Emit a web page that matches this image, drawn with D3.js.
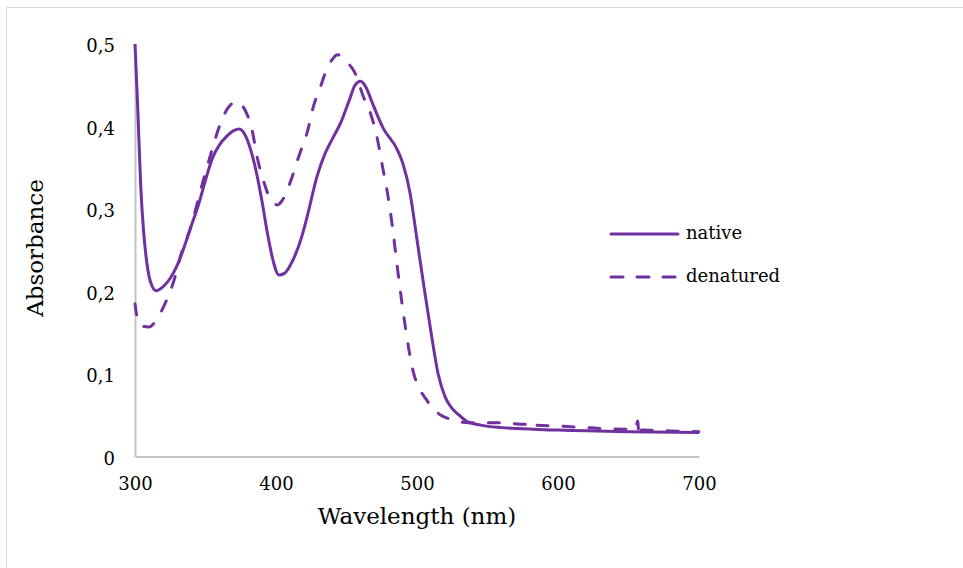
<!DOCTYPE html>
<html>
<head>
<meta charset="utf-8">
<script src="https://cdn.jsdelivr.net/npm/d3@7"></script>
<style>
  html, body { margin: 0; padding: 0; background: #fff; }
  svg { display: block; }
  text { font-family: "DejaVu Serif", Georgia, serif; fill: #000; }
</style>
</head>
<body>
<svg id="chart" width="963" height="568"></svg>
<script>
// Absorption spectra: wavelength (nm) and absorbance for each sample
const nativeWavelength = [300, 302, 304, 306, 308, 310, 312, 315, 320, 325, 330, 340, 345, 350, 355, 360, 365, 370, 374, 378, 382, 386, 390, 394, 398, 402, 406, 412, 418, 422, 429, 435, 440, 446, 452, 456, 460, 464, 468, 476, 486, 490, 495, 500, 505, 510, 515, 520, 525, 530, 536, 545, 560, 600, 650, 700];
const nativeAbsorbance = [0.500, 0.420, 0.330, 0.275, 0.240, 0.218, 0.207, 0.201, 0.206, 0.216, 0.232, 0.280, 0.305, 0.335, 0.362, 0.378, 0.388, 0.395, 0.397, 0.390, 0.372, 0.345, 0.310, 0.270, 0.237, 0.220, 0.222, 0.238, 0.265, 0.290, 0.339, 0.368, 0.385, 0.405, 0.432, 0.450, 0.455, 0.447, 0.430, 0.398, 0.372, 0.355, 0.320, 0.263, 0.205, 0.150, 0.100, 0.072, 0.058, 0.050, 0.042, 0.038, 0.035, 0.032, 0.030, 0.029];

const denaturedWavelength = [300, 302, 305, 310, 316, 322, 327, 333, 339, 348, 354, 359, 365, 372, 378, 383, 387, 391, 396, 401, 405, 410, 417, 422, 426.5, 431.5, 435, 440.7, 443.5, 451, 456, 462, 467, 472, 476, 479, 482.6, 486, 492, 497, 502.5, 507, 511, 517, 524, 536, 559, 577, 579, 581, 583, 600, 630, 655, 656.5, 657.5, 659, 680, 700];
const denaturedAbsorbance = [0.185, 0.165, 0.158, 0.157, 0.168, 0.188, 0.210, 0.247, 0.275, 0.332, 0.368, 0.396, 0.420, 0.430, 0.420, 0.396, 0.360, 0.335, 0.312, 0.305, 0.312, 0.332, 0.368, 0.392, 0.424, 0.448, 0.465, 0.483, 0.487, 0.477, 0.465, 0.436, 0.416, 0.384, 0.347, 0.320, 0.278, 0.230, 0.154, 0.105, 0.080, 0.068, 0.059, 0.050, 0.045, 0.041, 0.041, 0.039, 0.043, 0.039, 0.038, 0.037, 0.034, 0.033, 0.043, 0.024, 0.032, 0.031, 0.030];

const xTicks = [300, 400, 500, 600, 700];
const yTicks = [0, 0.1, 0.2, 0.3, 0.4, 0.5];
const seriesNames = ["native", "denatured"];

const purple = "#7030a0";
const axisGray = "#c4c4c4";

const svg = d3.select("#chart");

// outer chart frame
svg.append("rect")
  .attr("x", 6.5).attr("y", 7.5)
  .attr("width", 980).attr("height", 580)
  .attr("fill", "none").attr("stroke", "#d9d9d9").attr("stroke-width", 1);

const x = d3.scaleLinear().domain([300, 700]).range([135, 699]);
const y = d3.scaleLinear().domain([0, 0.5]).range([456.5, 44]);

const fmt = d => d === 0 ? "0" : d3.format(".1f")(d).replace(".", ",");

// y axis
const gy = svg.append("g")
  .attr("transform", `translate(${x(300)},0)`)
  .call(d3.axisLeft(y).tickValues(yTicks).tickFormat(fmt).tickSize(0).tickPadding(20));
gy.select(".domain").attr("stroke", axisGray).attr("stroke-width", 2);
gy.selectAll("text").attr("font-size", 18).attr("dy", "0.42em")
  .style("font-family", "'DejaVu Serif', Georgia, serif").attr("fill", "#000");

// x axis
const gx = svg.append("g")
  .attr("transform", `translate(0,${y(0)})`)
  .call(d3.axisBottom(x).tickValues(xTicks).tickFormat(d3.format("d")).tickSize(0).tickPadding(21));
gx.select(".domain").attr("stroke", axisGray).attr("stroke-width", 2);
gx.selectAll("text").attr("font-size", 18)
  .style("font-family", "'DejaVu Serif', Georgia, serif").attr("fill", "#000");

// axis titles
svg.append("text")
  .attr("x", 417).attr("y", 523.5)
  .attr("text-anchor", "middle").attr("font-size", 23)
  .text("Wavelength (nm)");

svg.append("text")
  .attr("transform", "translate(43,248) rotate(-90)")
  .attr("text-anchor", "middle").attr("font-size", 23)
  .text("Absorbance");

// spectra
const line = d3.line()
  .x(d => x(d[0]))
  .y(d => y(d[1]))
  .curve(d3.curveMonotoneX);

const nativeData = d3.zip(nativeWavelength, nativeAbsorbance);
const denaturedData = d3.zip(denaturedWavelength, denaturedAbsorbance);

svg.append("path")
  .datum(denaturedData)
  .attr("d", line)
  .attr("fill", "none").attr("stroke", purple).attr("stroke-width", 3)
  .attr("stroke-dasharray", "11,15").attr("stroke-linecap", "round")
  .attr("stroke-linejoin", "round");

svg.append("path")
  .datum(nativeData)
  .attr("d", line)
  .attr("fill", "none").attr("stroke", purple).attr("stroke-width", 3)
  .attr("stroke-linejoin", "round");

// legend
const legend = svg.append("g");
seriesNames.forEach((name, i) => {
  const ly = 234 + i * 43;
  legend.append("line")
    .attr("x1", 611).attr("x2", 678).attr("y1", ly).attr("y2", ly)
    .attr("stroke", purple).attr("stroke-width", 3)
    .attr("stroke-linecap", "round")
    .attr("stroke-dasharray", i === 1 ? "12,14" : null);
  legend.append("text")
    .attr("x", 686).attr("y", ly).attr("dy", "0.3em")
    .attr("font-size", 18)
    .text(name);
});
</script>
</body>
</html>
